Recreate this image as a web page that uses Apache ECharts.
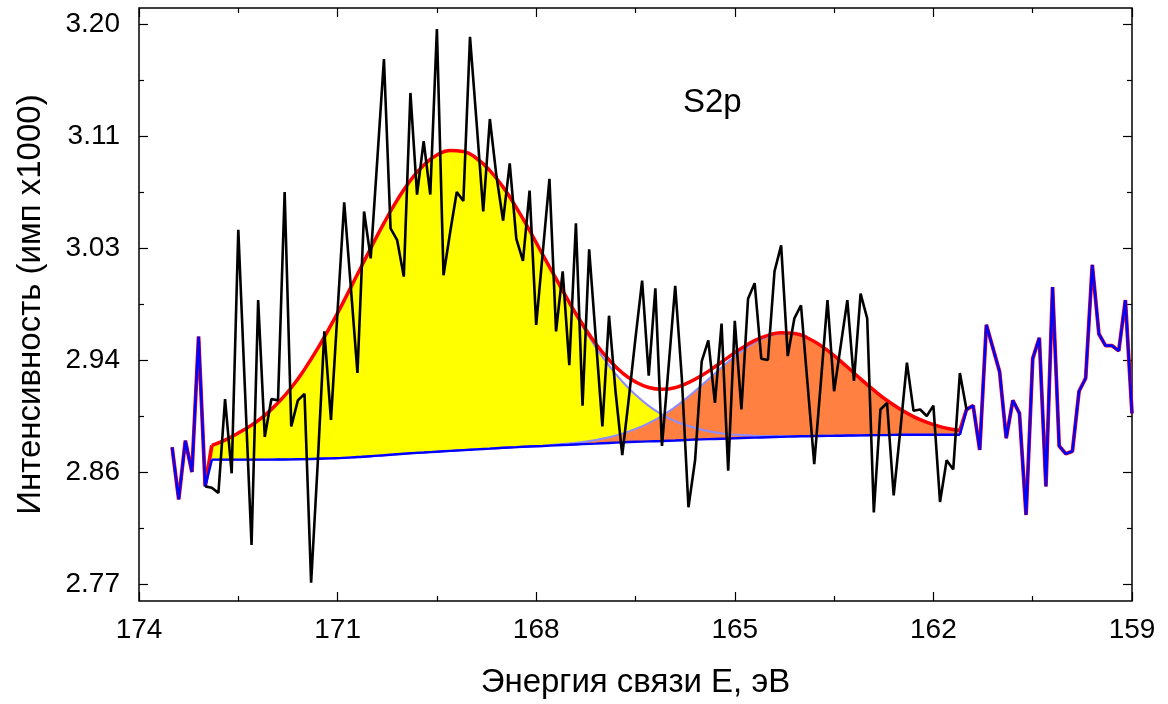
<!DOCTYPE html>
<html>
<head>
<meta charset="utf-8">
<script src="https://cdn.jsdelivr.net/npm/echarts@6/dist/echarts.min.js"></script>
<style>
  html, body { margin: 0; padding: 0; background: #ffffff; }
  #chart { width: 1168px; height: 704px; }
</style>
</head>
<body>
<div id="chart"></div>
<script>
// S2p XPS spectrum: measured counts, background and two fitted components.

// Measured spectrum, binding energy 173.5 -> 159.0 eV, step 0.1 eV (counts x1000)
const spectrum = [
  2.875, 2.835, 2.880, 2.856, 2.960, 2.845, 2.844, 2.840, 2.912, 2.855,
  3.042, 2.920, 2.800, 2.988, 2.883, 2.912, 2.911, 3.071, 2.891, 2.911,
  2.916, 2.771, 2.863, 2.964, 2.896, 2.980, 3.063, 2.998, 2.932, 3.056,
  3.020, 3.096, 3.173, 3.043, 3.034, 3.006, 3.147, 3.069, 3.110, 3.069,
  3.196, 3.007, 3.040, 3.071, 3.064, 3.190, 3.124, 3.056, 3.127, 3.083,
  3.049, 3.093, 3.035, 3.018, 3.072, 2.969, 3.025, 3.081, 2.964, 3.010,
  2.938, 3.047, 2.907, 3.027, 2.959, 2.891, 2.976, 2.917, 2.869, 2.913,
  2.959, 3.003, 2.930, 2.997, 2.876, 2.937, 2.999, 2.928, 2.829, 2.865,
  2.941, 2.957, 2.909, 2.970, 2.857, 2.972, 2.904, 2.989, 3.001, 2.943,
  2.942, 3.010, 3.030, 2.945, 2.974, 2.984, 2.923, 2.862, 2.925, 2.988,
  2.918, 2.953, 2.988, 2.926, 2.993, 2.974, 2.825, 2.904, 2.909, 2.838,
  2.888, 2.940, 2.903, 2.904, 2.899, 2.907, 2.833, 2.865, 2.858, 2.932,
  2.904, 2.907, 2.873, 2.969, 2.951, 2.933, 2.882, 2.911, 2.901, 2.823,
  2.943, 2.959, 2.845, 2.998, 2.876, 2.870, 2.872, 2.918, 2.928, 3.015,
  2.962, 2.953, 2.953, 2.949, 2.988, 2.901
];
const spectrumStart = 173.5;
const spectrumStep = 0.1;

// Fit window: last measured point before it and first one after it
const fitFrom = 173.0;
const fitTo = 161.5;

// Fit curves, sampled every 0.2 eV from 172.9 eV, closing at 161.6 eV
const fitStart = 172.9, fitStep = 0.2, fitEnd = 161.6;
const background = [
  2.8655, 2.8655, 2.8655, 2.8655, 2.8655, 2.8656, 2.8657, 2.8659, 2.8662, 2.8665,
  2.8669, 2.8675, 2.8681, 2.8689, 2.8697, 2.8704, 2.8710, 2.8716, 2.8722, 2.8728,
  2.8734, 2.8740, 2.8746, 2.8751, 2.8756, 2.8760, 2.8765, 2.8769, 2.8774, 2.8778,
  2.8783, 2.8788, 2.8792, 2.8795, 2.8798, 2.8802, 2.8807, 2.8811, 2.8814, 2.8817,
  2.8821, 2.8824, 2.8827, 2.8830, 2.8833, 2.8835, 2.8837, 2.8838, 2.8840, 2.8841,
  2.8843, 2.8844, 2.8846, 2.8846, 2.8846, 2.8846, 2.8846, 2.8846
];
// Component heights above the background
const peakHigh = [
  0.0110, 0.0150, 0.0205, 0.0265, 0.0340, 0.0435, 0.0550, 0.0689, 0.0847, 0.1022,
  0.1209, 0.1403, 0.1596, 0.1781, 0.1950, 0.2094, 0.2205, 0.2277, 0.2306, 0.2292,
  0.2233, 0.2134, 0.2001, 0.1839, 0.1658, 0.1467, 0.1273, 0.1083, 0.0903, 0.0739,
  0.0594, 0.0467, 0.0361, 0.0273, 0.0203, 0.0148, 0.0106, 0.0074, 0.0051, 0.0034,
  0.0023, 0.0015, 0.0009, 0.0006, 0.0004, 0.0002, 0.0001, 0, 0, 0,
  0, 0, 0, 0, 0, 0, 0, 0
];
const peakLow = [
  0, 0, 0, 0, 0, 0, 0, 0, 0, 0,
  0, 0, 0, 0, 0, 0, 0, 0, 0, 0,
  0, 0, 0, 0, 0, 0, 0.0006, 0.0010, 0.0017, 0.0028,
  0.0044, 0.0067, 0.0099, 0.0141, 0.0194, 0.0258, 0.0333, 0.0416, 0.0503, 0.0589,
  0.0666, 0.0730, 0.0773, 0.0793, 0.0786, 0.0752, 0.0692, 0.0615, 0.0526, 0.0434,
  0.0345, 0.0265, 0.0196, 0.0139, 0.0096, 0.0063, 0.0040, 0.0032
];

// Axis ticks
const xMin = 159, xMax = 174, xStep = 3;
const yMin = 2.757, yMax = 3.2122;
const yMajorTicks = [2.77, 2.856, 2.942, 3.028, 3.114, 3.20];
const yMinorTicks = [2.813, 2.899, 2.985, 3.071, 3.157];
// level the component fills reach down to (kept above the bottom ticks)
const fillFloor = 2.7655;

const peakLabel = 'S2p';
const xTitle = 'Энергия связи Е, эВ';
const yTitle = 'Интенсивность (имп x1000)';

const FONT = '"Liberation Sans", Arial, sans-serif';

const energies = spectrum.map((_, i) => +(spectrumStart - spectrumStep * i).toFixed(1));
const measured = energies.map((e, i) => [e, spectrum[i]]);
const leftRaw = measured.filter(p => p[0] >= fitFrom);
const rightRaw = measured.filter(p => p[0] <= fitTo);
const insideRaw = measured.filter(p => p[0] <= fitFrom && p[0] >= fitTo);

const fitEnergies = background.map((_, k) =>
  k === background.length - 1 ? fitEnd : +(fitStart - fitStep * k).toFixed(1));
const pairs = (ys) => fitEnergies.map((e, i) => [e, ys[i]]);
const bgPts = pairs(background);
const comp1 = pairs(background.map((b, i) => b + peakHigh[i]));
const comp2 = pairs(background.map((b, i) => b + peakLow[i]));
const envelope = pairs(background.map((b, i) => b + peakHigh[i] + peakLow[i]));
const last = fitEnergies.length - 1;
// clearing region under the background, a little wider than the fills so their edges vanish
const bgClear = [[fitFrom, background[0]]].concat(bgPts, [[fitTo, background[last]]]);

const base = { type: 'line', symbol: 'none', silent: true, animation: false, xAxisIndex: 0, yAxisIndex: 0 };
const noLine = { lineStyle: { opacity: 0, width: 0 } };
const fill = (data, color) => Object.assign({}, base, noLine, {
  data: data, smooth: true, areaStyle: { color: color, opacity: 1, origin: fillFloor }
});

const series = [
  // component fills: each component down to the floor, then the part under the background cleared
  fill(comp1, '#ffff00'),
  fill(comp2, '#ff8040'),
  fill(bgClear, '#ffffff'),
  // component outlines
  Object.assign({}, base, { data: comp1, smooth: true, lineStyle: { color: '#8c8cff', width: 2 } }),
  Object.assign({}, base, { data: comp2, smooth: true, lineStyle: { color: '#8c8cff', width: 2 } }),
  // envelope (fit sum) joined to the measured data outside the window
  Object.assign({}, base, { data: envelope, smooth: true, lineStyle: { color: '#ff0000', width: 3.5 } }),
  Object.assign({}, base, { data: leftRaw.concat([envelope[0]]), lineStyle: { color: '#ff0000', width: 3.8 } }),
  Object.assign({}, base, { data: [envelope[last]].concat(rightRaw), lineStyle: { color: '#ff0000', width: 3.8 } }),
  // background joined to the measured data outside the window
  Object.assign({}, base, { data: bgPts, smooth: true, lineStyle: { color: '#0000ff', width: 2.4 } }),
  Object.assign({}, base, { data: leftRaw.concat([bgPts[0]]), lineStyle: { color: '#0000ff', width: 2.6 } }),
  Object.assign({}, base, { data: [bgPts[last]].concat(rightRaw), lineStyle: { color: '#0000ff', width: 2.6 } }),
  // measured spectrum inside the fit window
  Object.assign({}, base, { data: insideRaw, lineStyle: { color: '#000000', width: 2.6 } })
];

const tickStyle = { color: '#000', width: 1.2 };
const xAxisCommon = {
  type: 'value', min: xMin, max: xMax, interval: xStep, inverse: true,
  axisLine: { show: false, onZero: false },
  axisTick: { inside: true, length: 9, lineStyle: tickStyle },
  minorTick: { show: true, splitNumber: 2, length: 5, lineStyle: tickStyle },
  splitLine: { show: false }, minorSplitLine: { show: false }
};
const yAxisCommon = {
  type: 'value', min: yMin, max: yMax,
  axisLine: { show: false, onZero: false },
  splitLine: { show: false }, minorSplitLine: { show: false }
};

const option = {
  backgroundColor: '#ffffff',
  animation: false,
  grid: { left: 139, right: 36, top: 8, bottom: 100, show: true,
          borderColor: '#000', borderWidth: 1.5, backgroundColor: 'transparent' },
  xAxis: [
    Object.assign({}, xAxisCommon, {
      position: 'bottom',
      axisLabel: { fontSize: 28, color: '#000', fontFamily: FONT, margin: 15, showMinLabel: true, showMaxLabel: true },
      name: xTitle, nameLocation: 'middle', nameGap: 65,
      nameTextStyle: { fontSize: 33, color: '#000', fontFamily: FONT }
    }),
    Object.assign({}, xAxisCommon, { position: 'top', axisLabel: { show: false } })
  ],
  yAxis: [
    Object.assign({}, yAxisCommon, {
      position: 'left',
      axisTick: { inside: true, length: 9, lineStyle: tickStyle, customValues: yMajorTicks },
      axisLabel: { customValues: yMajorTicks, formatter: v => v.toFixed(2),
                   fontSize: 28, color: '#000', fontFamily: FONT, margin: 19 },
      name: yTitle, nameLocation: 'middle', nameGap: 92,
      nameTextStyle: { fontSize: 33, color: '#000', fontFamily: FONT }
    }),
    Object.assign({}, yAxisCommon, {
      position: 'left',
      axisTick: { inside: true, length: 5, lineStyle: tickStyle, customValues: yMinorTicks },
      axisLabel: { show: false }
    }),
    Object.assign({}, yAxisCommon, {
      position: 'right',
      axisTick: { inside: true, length: 9, lineStyle: tickStyle, customValues: yMajorTicks },
      axisLabel: { show: false }
    }),
    Object.assign({}, yAxisCommon, {
      position: 'right',
      axisTick: { inside: true, length: 5, lineStyle: tickStyle, customValues: yMinorTicks },
      axisLabel: { show: false }
    })
  ],
  graphic: [{
    type: 'text', left: 683, top: 86, silent: true,
    style: { text: peakLabel, font: '33px ' + FONT, fill: '#000' }
  }],
  series: series
};

const chart = echarts.init(document.getElementById('chart'), null, { renderer: 'canvas' });
chart.setOption(option);
</script>
</body>
</html>
